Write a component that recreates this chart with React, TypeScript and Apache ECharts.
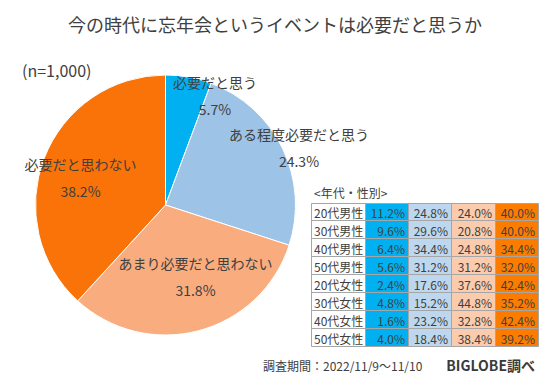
import React, { useEffect, useRef } from "react";
import * as echarts from "echarts";

const FONT = '"Noto Sans CJK JP", "Noto Sans", sans-serif';
const TEXT_COLOR = "#404040";

const titleText = "今の時代に忘年会というイベントは必要だと思うか";
const sampleText = "(n=1,000)";
const pieNames = ["必要だと思う", "ある程度必要だと思う", "あまり必要だと思わない", "必要だと思わない"];
const pieValues = [5.7, 24.3, 31.8, 38.2];
const pieColors = ["#00b0f0", "#9dc3e6", "#f9ad7e", "#f97308"];
const labelCenters = [[215, 95], [299, 147], [195.5, 276], [80.5, 177]];

const tableHeader = "<年代・性別>";
const groups = ["20代男性", "30代男性", "40代男性", "50代男性", "20代女性", "30代女性", "40代女性", "50代女性"];
const tblNeeded = [11.2, 9.6, 6.4, 5.6, 2.4, 4.8, 1.6, 4.0];
const tblSomewhat = [24.8, 29.6, 34.4, 31.2, 17.6, 15.2, 23.2, 18.4];
const tblNotMuch = [24.0, 20.8, 24.8, 31.2, 37.6, 44.8, 32.8, 38.4];
const tblNot = [40.0, 40.0, 34.4, 32.0, 42.4, 35.2, 42.4, 39.2];
const tableColors = ["#ffffff", "#00b0f0", "#bdd7ee", "#fbcbad", "#fc7c00"];

const periodText = "調査期間：2022/11/9～11/10";
const sourceText = "BIGLOBE調べ";

function txt(text: string, x: number, y: number, font: string, align: string, extra: any = {}) {
  return {
    type: "text",
    z: 10,
    style: {
      text, x, y, fill: TEXT_COLOR, font,
      align, verticalAlign: "middle", textAlign: align, textVerticalAlign: "middle",
      ...extra,
    },
  };
}

function buildTable() {
  const colX = [311, 365, 408, 451, 495, 538];
  const top = 202.5;
  const rowH = 17.875;
  const els: any[] = [];
  const cols = [tblNeeded, tblSomewhat, tblNotMuch, tblNot];
  els.push(txt(tableHeader, 314, 192, `12px ${FONT}`, "left"));
  groups.forEach((g, r) => {
    const y0 = Math.round(top + r * rowH) + 0.5;
    const y1 = Math.round(top + (r + 1) * rowH) + 0.5;
    for (let c = 0; c < 5; c++) {
      els.push({
        type: "rect",
        shape: { x: colX[c] + 0.5, y: y0, width: colX[c + 1] - colX[c], height: y1 - y0 },
        style: { fill: tableColors[c], stroke: "#a6a6a6", lineWidth: 1 },
      });
      const t = c === 0 ? g : cols[c - 1][r].toFixed(1) + "%";
      const tx = c === 0 ? colX[0] + 3 : colX[c + 1] - 3;
      els.push(txt(t, tx, (y0 + y1) / 2 + 0.5, `12px ${FONT}`, c === 0 ? "left" : "right"));
    }
  });
  return els;
}

function buildPieLabels() {
  return pieNames.map((n, i) =>
    txt(`${n}\n${pieValues[i].toFixed(1)}%`, labelCenters[i][0], labelCenters[i][1], `14px ${FONT}`, "center", {
      lineHeight: 27,
    })
  );
}

export default function App() {
  const ref = useRef<HTMLDivElement>(null);
  useEffect(() => {
    if (!ref.current) return;
    const chart = echarts.init(ref.current, null, { renderer: "svg" });
    chart.setOption({
      animation: false,
      backgroundColor: "#ffffff",
      title: {
        text: titleText, left: "center", top: 15, padding: 0,
        textStyle: { fontSize: 18, fontWeight: "normal", color: TEXT_COLOR, fontFamily: FONT },
      },
      series: [
        {
          type: "pie",
          center: [165.5, 205],
          radius: [0, 130],
          startAngle: 90,
          clockwise: true,
          avoidLabelOverlap: false,
          itemStyle: { borderColor: "#ffffff", borderWidth: 1 },
          labelLine: { show: false },
          label: { show: false },
          data: pieNames.map((n, i) => ({
            name: n,
            value: pieValues[i],
            itemStyle: { color: pieColors[i] },
          })),
        },
      ],
      graphic: [
        txt(sampleText, 22, 70, `16px ${FONT}`, "left"),
        ...buildPieLabels(),
        ...buildTable(),
        txt(periodText, 263, 365, `12px ${FONT}`, "left"),
        txt(sourceText, 535, 365, `bold 14px ${FONT}`, "right", { fill: "#3a3a3a" }),
      ],
    });
    return () => chart.dispose();
  }, []);
  return <div ref={ref} style={{ width: 550, height: 385, position: "absolute", left: 0, top: 0 }} />;
}
